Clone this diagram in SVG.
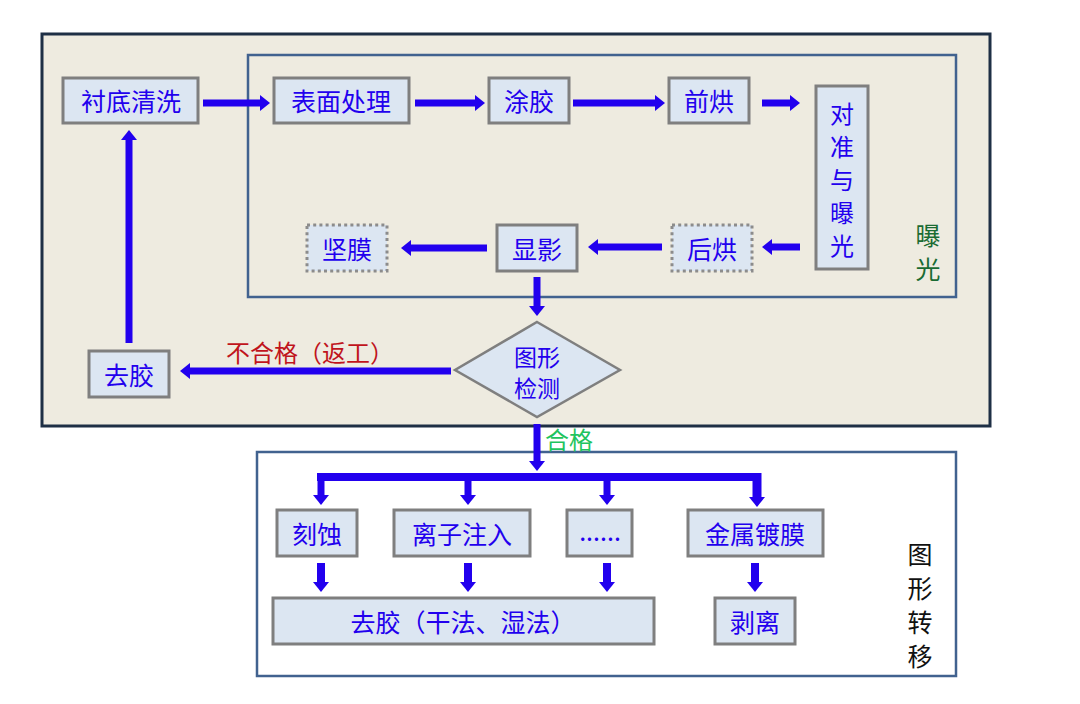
<svg xmlns="http://www.w3.org/2000/svg" width="1080" height="704" viewBox="0 0 1080 704">
<defs>
<marker id="ah" viewBox="0 0 10 16" refX="4" refY="8" markerWidth="10" markerHeight="16" markerUnits="userSpaceOnUse" orient="auto">
<path d="M0,0 L10,8 L0,16 Z" fill="#2200EE"/>
</marker>
<style>
.node{fill:#DCE6F2;stroke:#7F7F7F;stroke-width:3}
.dot{fill:#DCE6F2;stroke:#8C8C8C;stroke-width:3;stroke-dasharray:3 3.2}
.t{font-family:"Noto Sans CJK SC","Noto Sans",sans-serif;font-size:25px;fill:#2200EE;text-anchor:middle;dominant-baseline:central}
.arr{stroke:#2200EE;stroke-width:7;fill:none;marker-end:url(#ah)}
.bus{stroke:#2200EE;stroke-width:8;fill:none}
</style>
</defs>
<rect width="1080" height="704" fill="#FFFFFF"/>
<g id="frame-litho">
<rect x="42" y="34" width="948" height="392" fill="#EEEBE0" stroke="#1E2F45" stroke-width="3"/>
</g>
<g id="frame-exposure">
<rect x="248" y="55" width="708" height="242" fill="none" stroke="#41628F" stroke-width="2.5"/>
<text class="t" style="fill:#1A6B33;font-size:25px"><tspan x="928" y="234">曝</tspan><tspan x="928" y="268">光</tspan></text>
</g>
<g id="frame-transfer">
<rect x="257" y="452" width="699" height="224" fill="#FFFFFF" stroke="#41628F" stroke-width="2.5"/>
<text class="t" style="fill:#111111;font-size:25px"><tspan x="920" y="553">图</tspan><tspan x="920" y="587">形</tspan><tspan x="920" y="621">转</tspan><tspan x="920" y="655">移</tspan></text>
</g>
<g id="connectors">
<line class="arr" x1="203" y1="103" x2="264" y2="103"/>
<line class="arr" x1="415" y1="103" x2="479" y2="103"/>
<line class="arr" x1="573" y1="103" x2="659" y2="103"/>
<line class="arr" x1="762" y1="103" x2="794" y2="103"/>
<line class="arr" x1="800" y1="247" x2="768" y2="247"/>
<line class="arr" x1="662" y1="247" x2="594" y2="247"/>
<line class="arr" x1="487" y1="248" x2="407" y2="248"/>
<line class="arr" x1="537" y1="277" x2="537" y2="310"/>
<line class="arr" x1="451" y1="371" x2="186" y2="371"/>
<line class="arr" x1="129" y1="343" x2="129" y2="136"/>
<line class="arr" x1="537" y1="424" x2="537" y2="465"/>
<path class="bus" d="M317,477 H761"/>
<line class="arr" x1="321" y1="473" x2="321" y2="499"/>
<line class="arr" x1="468" y1="477" x2="468" y2="499"/>
<line class="arr" x1="607" y1="477" x2="607" y2="499"/>
<line class="arr" x1="757" y1="473" x2="757" y2="501" style="stroke-width:9"/>
<line class="arr" x1="321" y1="563" x2="321" y2="586" style="stroke-width:8"/>
<line class="arr" x1="468" y1="563" x2="468" y2="586" style="stroke-width:8"/>
<line class="arr" x1="607" y1="563" x2="607" y2="586" style="stroke-width:8"/>
<line class="arr" x1="755" y1="563" x2="755" y2="586" style="stroke-width:8"/>
<text x="226" y="351" style="font-family:'Noto Sans CJK SC','Noto Sans',sans-serif;font-size:24px;fill:#C0141C;dominant-baseline:central">不合格（返工）</text>
<text x="545" y="438" style="font-family:'Noto Sans CJK SC','Noto Sans',sans-serif;font-size:24px;fill:#1FC45E;dominant-baseline:central">合格</text>
</g>
<g id="n-substrate-clean"><rect class="node" x="63" y="78" width="135" height="45"/><text class="t" x="131" y="100">衬底清洗</text></g>
<g id="n-surface"><rect class="node" x="274" y="78" width="135" height="45"/><text class="t" x="341" y="100">表面处理</text></g>
<g id="n-coat"><rect class="node" x="489" y="78" width="80" height="45"/><text class="t" x="529" y="100">涂胶</text></g>
<g id="n-prebake"><rect class="node" x="669" y="78" width="80" height="45"/><text class="t" x="709" y="100">前烘</text></g>
<g id="n-align-expose"><rect class="node" x="816" y="86" width="52" height="183"/>
<text class="t" style="font-size:24px"><tspan x="842" y="112">对</tspan><tspan x="842" y="145">准</tspan><tspan x="842" y="178">与</tspan><tspan x="842" y="211">曝</tspan><tspan x="842" y="244">光</tspan></text></g>
<g id="n-postbake"><rect class="dot" x="672" y="225" width="80" height="46"/><text class="t" x="712" y="248">后烘</text></g>
<g id="n-develop"><rect class="node" x="497" y="225" width="80" height="46"/><text class="t" x="537" y="248">显影</text></g>
<g id="n-hardbake"><rect class="dot" x="307" y="225" width="80" height="46"/><text class="t" x="347" y="248">坚膜</text></g>
<g id="n-inspect"><polygon points="537,322 620,370 537,417 455,370" fill="#DCE6F2" stroke="#7F7F7F" stroke-width="2.5"/>
<text class="t" style="font-size:23px"><tspan x="537" y="356">图形</tspan><tspan x="537" y="387">检测</tspan></text></g>
<g id="n-strip1"><rect class="node" x="89" y="351" width="80" height="46"/><text class="t" x="129" y="374">去胶</text></g>
<g id="n-etch"><rect class="node" x="277" y="510" width="80" height="46"/><text class="t" x="317" y="533">刻蚀</text></g>
<g id="n-implant"><rect class="node" x="394" y="510" width="136" height="46"/><text class="t" x="462" y="533">离子注入</text></g>
<g id="n-etc"><rect class="node" x="567" y="510" width="65" height="46"/><text class="t" x="600" y="530">......</text></g>
<g id="n-metal"><rect class="node" x="688" y="510" width="135" height="46"/><text class="t" x="755" y="533">金属镀膜</text></g>
<g id="n-strip2"><rect class="node" x="273" y="598" width="381" height="46"/><text class="t" x="463" y="621">去胶（干法、湿法）</text></g>
<g id="n-liftoff"><rect class="node" x="715" y="598" width="80" height="46"/><text class="t" x="755" y="621">剥离</text></g>
</svg>
